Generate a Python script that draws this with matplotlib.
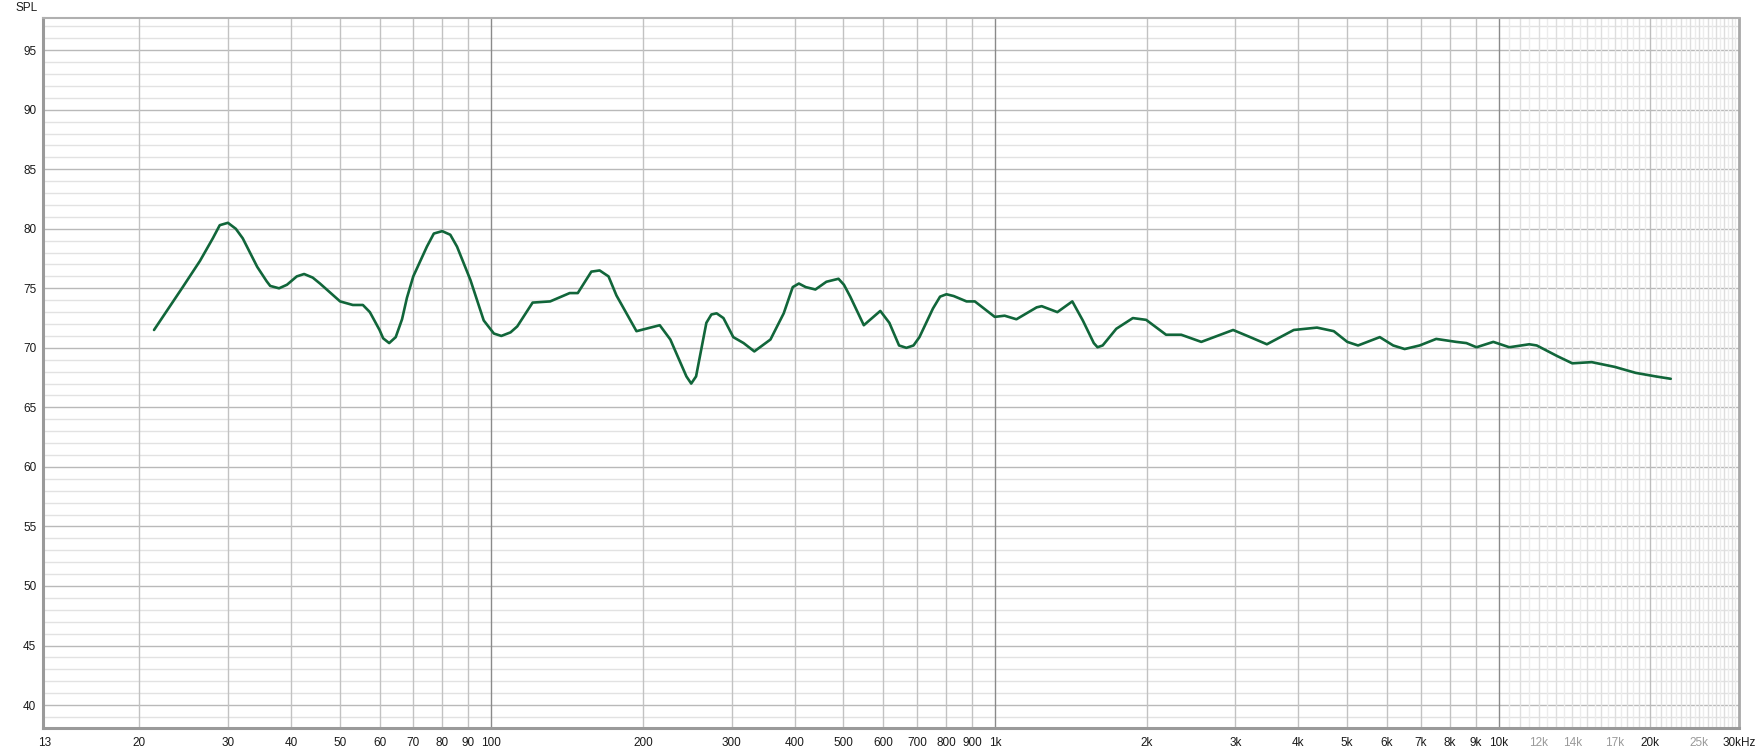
import numpy as np
import matplotlib.pyplot as plt

# SPL response (Hz, dB)
freq = [21.4, 22.6, 24.4, 26.4, 28.0, 28.9, 30.0, 31.1, 32.1, 34.3,
        35.8, 36.4, 37.9, 39.3, 41.1, 42.5, 44.2, 45.7, 50.1, 53.1,
        55.6, 57.4, 60.0, 61.0, 62.7, 64.6, 66.5, 68.0, 70.0, 74.5, 76.9,
        79.9, 82.9, 85.5, 90.9, 96.6, 101.2, 104.7, 109.2, 112.6, 120.8,
        130.9, 143.1, 148.5, 158.0, 164.1, 170.9, 177.2, 194.2, 216, 226.7,
        244, 249.4, 255, 267.3, 273.5, 280.1, 289, 302.3, 316.9, 332.8,
        358.3, 380.7, 396.7, 408, 421, 440, 462.7, 489, 501.3, 516,
        549, 592, 617, 645, 667, 689, 708, 753, 778, 801,
        828, 878, 912, 999, 1045, 1103, 1210, 1238, 1330, 1424,
        1494, 1571, 1598, 1636, 1741, 1878, 1996, 2186, 2343, 2568,
        2970, 3211, 3466, 3919, 4358, 4706, 5005, 5258, 5807, 6174,
        6506, 6967, 7516, 8236, 8628, 9036, 9758, 10500, 11500, 11900,
        13080, 14000, 15300, 17000, 18700, 20500, 21960]
spl = [71.5, 73.0, 75.1, 77.3, 79.2, 80.3, 80.5, 80.0, 79.2, 76.8,
       75.6, 75.2, 75.0, 75.3, 76.0, 76.2, 75.9, 75.4, 73.9, 73.6,
       73.6, 73.0, 71.5, 70.8, 70.4, 70.9, 72.4, 74.2, 76.0, 78.5, 79.6,
       79.8, 79.5, 78.5, 75.7, 72.3, 71.2, 71.0, 71.3, 71.8, 73.8,
       73.9, 74.6, 74.6, 76.4, 76.5, 76.0, 74.4, 71.4, 71.9, 70.7,
       67.6, 67.0, 67.6, 72.1, 72.8, 72.9, 72.5, 70.9, 70.4, 69.7,
       70.7, 72.9, 75.1, 75.4, 75.1, 74.9, 75.55, 75.8, 75.3, 74.3,
       71.9, 73.1, 72.1, 70.2, 70.0, 70.2, 70.9, 73.3, 74.3, 74.5,
       74.35, 73.9, 73.9, 72.6, 72.7, 72.4, 73.4, 73.5, 73.0, 73.9,
       72.3, 70.4, 70.05, 70.2, 71.6, 72.5, 72.35, 71.1, 71.1, 70.5,
       71.5, 70.9, 70.3, 71.5, 71.7, 71.4, 70.5, 70.2, 70.9, 70.2,
       69.9, 70.2, 70.75, 70.5, 70.4, 70.05, 70.5, 70.05, 70.3, 70.2,
       69.3, 68.7, 68.8, 68.4, 67.9, 67.6, 67.4]

x_ticks = [13, 20, 30, 40, 50, 60, 70, 80, 90, 100, 200, 300, 400, 500, 600,
           700, 800, 900, 1000, 2000, 3000, 4000, 5000, 6000, 7000, 8000,
           9000, 10000, 12000, 14000, 17000, 20000, 25000, 30000]
x_labels = ['13', '20', '30', '40', '50', '60', '70', '80', '90', '100', '200',
            '300', '400', '500', '600', '700', '800', '900', '1k', '2k', '3k',
            '4k', '5k', '6k', '7k', '8k', '9k', '10k', '12k', '14k', '17k',
            '20k', '25k', '30kHz']
faint_labels = ['12k', '14k', '17k', '25k']
y_ticks = list(range(40, 100, 5))

plt.rcParams['font.family'] = ['Liberation Sans', 'DejaVu Sans']

fig = plt.figure(figsize=(17.61, 7.53), dpi=100)
W, H = 1761, 753
ax = fig.add_axes([43.3 / W, 1 - 727.7 / H, (1739 - 43.3) / W, (727.7 - 18) / H])
ax.set_xscale('log')
ax.set_xlim(12.9, 30000)
ax.set_ylim(38.1, 97.7)

# grid
for db in range(38, 98):
    c = '#b9b9b9' if db % 5 == 0 else '#e2e2e2'
    ax.axhline(db, color=c, lw=1.0, zorder=1)
for dec in [10, 100, 1000]:
    for m in range(2, 10):
        ax.axvline(dec * m, color='#c2c2c2', lw=1.0, zorder=1)
for f in np.arange(10500, 30000, 500):
    c = '#dedede' if f % 1000 == 0 else '#ececec'
    if f == 20000:
        c = '#bdbdbd'
    ax.axvline(f, color=c, lw=1.0, zorder=1)
for f in [100, 1000, 10000]:
    ax.axvline(f, color='#8a8a8a', lw=1.0, zorder=2)

ax.plot(freq, spl, color='#11663a', lw=1.9, zorder=5,
        solid_joinstyle='round', solid_capstyle='round')

ax.set_xticks(x_ticks)
ax.set_xticklabels(x_labels)
ax.xaxis.set_minor_locator(plt.NullLocator())
ax.set_yticks(y_ticks)
ax.tick_params(axis='both', length=0, labelsize=8.5, colors='#1a1a1a')
ax.tick_params(axis='x', pad=7)
ax.tick_params(axis='y', pad=5)
for lab in ax.get_xticklabels():
    if lab.get_text() in faint_labels:
        lab.set_color('#9a9a9a')

for side in ['left', 'bottom']:
    ax.spines[side].set_color('#9a9a9a')
    ax.spines[side].set_linewidth(2.2)
ax.spines['top'].set_color('#b0b0b0')
ax.spines['top'].set_linewidth(1.5)
ax.spines['right'].set_color('#a8a8a8')
ax.spines['right'].set_linewidth(2.0)

fig.text(15 / W, 1 - 8 / H, 'SPL', fontsize=8.5, color='#1a1a1a', va='center', ha='left')

fig.savefig('out.png', dpi=100, facecolor='white')
